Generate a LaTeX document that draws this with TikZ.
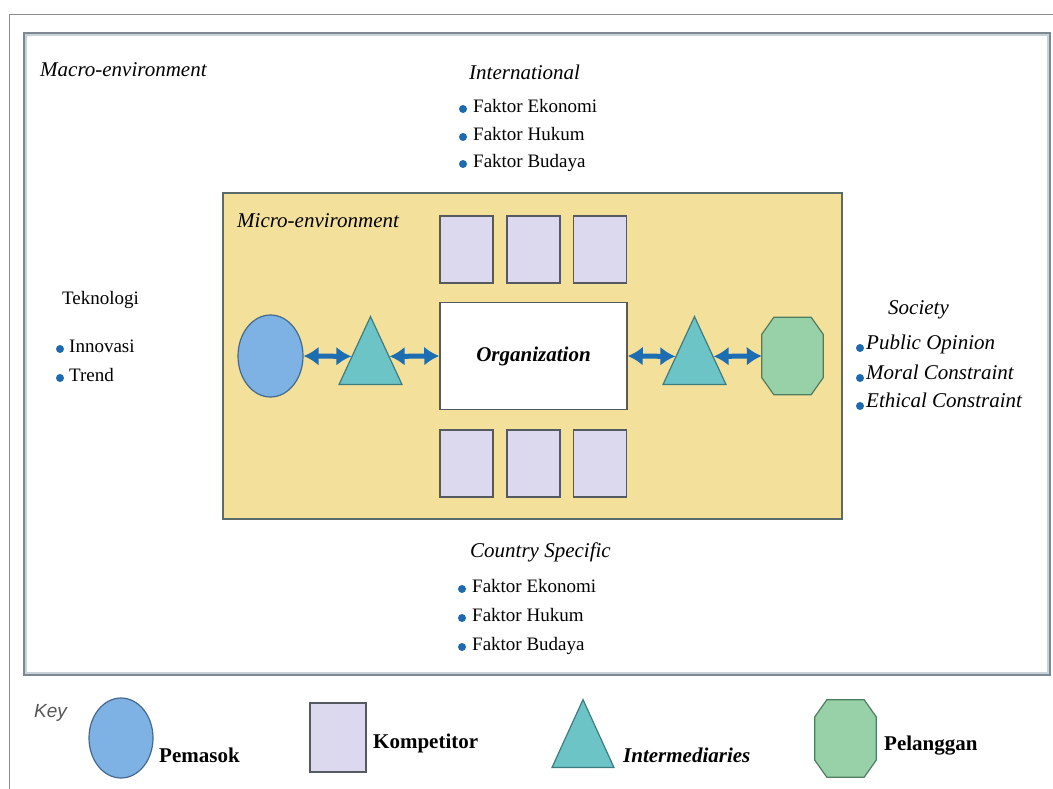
\documentclass[tikz,border=0pt]{standalone}
\usepackage{fontspec}
\setmainfont{Liberation Serif}
\setsansfont{Liberation Sans}
\usetikzlibrary{shapes.geometric,arrows.meta,calc}

\definecolor{framegray}{HTML}{8C8C8C}
\definecolor{macroline}{HTML}{7D8892}
\definecolor{macroshade}{HTML}{C9D1D8}
\definecolor{microline}{HTML}{596B6B}
\definecolor{microfill}{HTML}{F3E09B}
\definecolor{kompfill}{HTML}{DCD8EE}
\definecolor{shapeline}{HTML}{545A60}
\definecolor{pemfill}{HTML}{7EB2E4}
\definecolor{pemline}{HTML}{45698C}
\definecolor{intfill}{HTML}{6CC4C6}
\definecolor{intline}{HTML}{3F7C80}
\definecolor{pelfill}{HTML}{98D1A8}
\definecolor{pelline}{HTML}{4F7D60}
\definecolor{arrowblue}{HTML}{1D6DB3}
\definecolor{dotblue}{HTML}{1E6AB0}
\definecolor{keygray}{HTML}{555555}

% octagon drawn round an (invisible) node
\newcommand{\oktagon}[1]{%
  \draw[pelanggan] ([xshift=12pt]#1.north west) -- ([xshift=-12pt]#1.north east)
    -- ([yshift=-17pt]#1.north east) -- ([yshift=17pt]#1.south east)
    -- ([xshift=-12pt]#1.south east) -- ([xshift=12pt]#1.south west)
    -- ([yshift=17pt]#1.south west) -- ([yshift=-17pt]#1.north west) -- cycle;}

\begin{document}
\begin{tikzpicture}[x=1pt,y=-1pt,
    frame/.style={draw=framegray,line width=1pt},
    macrobox/.style={draw=macroline,line width=2.5pt},
    microbox/.style={draw=microline,line width=1.8pt,fill=microfill},
    komp/.style={draw=shapeline,line width=1.5pt,fill=kompfill,inner sep=0pt,minimum width=53pt,minimum height=67pt},
    org/.style={draw=shapeline,line width=1.5pt,fill=white,minimum width=187pt,minimum height=107pt,font=\fontsize{21}{24}\selectfont\bfseries\itshape},
    pemasok/.style={ellipse,draw=pemline,line width=1.2pt,fill=pemfill,inner sep=0pt,minimum width=65pt,minimum height=82pt},
    perantara/.style={isosceles triangle,shape border rotate=90,isosceles triangle stretches,draw=intline,line width=1.2pt,fill=intfill,inner sep=0pt,minimum width=63pt,minimum height=68pt,anchor=apex},
    pelbox/.style={inner sep=0pt,minimum width=61pt,minimum height=77pt},
    pelanggan/.style={draw=pelline,line width=1.2pt,fill=pelfill},
    link/.style={{Latex[length=15pt,width=19pt]}-{Latex[length=15pt,width=19pt]},line width=5pt,draw=arrowblue},
    dot/.style={circle,fill=dotblue,inner sep=0pt,minimum size=8pt},
    teks/.style={inner sep=0pt,anchor=west,text height=13pt,text depth=4pt,font=\fontsize{19}{22}\selectfont},
    miring/.style={teks,font=\fontsize{21}{24}\selectfont\itshape},
    kunci/.style={inner sep=0pt,anchor=west,text height=14pt,text depth=4pt,font=\fontsize{21}{24}\selectfont\bfseries}]

    \useasboundingbox[fill=white] (0,0) rectangle (1053,789);

    % frames
    \draw[frame] (9,789) -- (9,15) -- (1053,15);
    \draw[macroshade,line width=1.5pt] (26,35) rectangle (1048,673);
    \draw[macrobox] (24,33) rectangle (1050,675);
    \draw[microbox] (223,193) rectangle (842,519);

    % kompetitor
    \node[komp] (k1) at (466.5,249.5) {};
    \node[komp] (k2) at (533.5,249.5) {};
    \node[komp] (k3) at (600,249.5) {};
    \node[komp] (k4) at (466.5,463.5) {};
    \node[komp] (k5) at (533.5,463.5) {};
    \node[komp] (k6) at (600,463.5) {};

    \node[org] (org) at (533.5,356) {Organization};
    \node[pemasok] (pem) at (270.5,356) {};
    \node[perantara] (triL) at (370.5,315) {};
    \node[perantara] (triR) at (694.5,315) {};
    \node[pelbox] (pel) at (792.5,356) {};
    \oktagon{pel}

    \draw[link] (pem.east) -- ($(triL.apex)!0.59!(triL.left corner)$);
    \draw[link] ($(triL.apex)!0.59!(triL.right corner)$) -- (org.west);
    \draw[link] (org.east) -- ($(triR.apex)!0.59!(triR.left corner)$);
    \draw[link] ($(triR.apex)!0.59!(triR.right corner)$) -- (pel.west);

    % labels
    \node[miring] (makro) at (40,72) {Macro-environment};
    \node[miring] (mikro) at (237,223) {Micro-environment};

    \node[miring] (intl) at (469,75) {International};
    \node[dot] (i1) at (463,109) {};
    \node[teks] (i1t) at (473,108) {Faktor Ekonomi};
    \node[dot] (i2) at (463,137) {};
    \node[teks] (i2t) at (473,136) {Faktor Hukum};
    \node[dot] (i3) at (463,164) {};
    \node[teks] (i3t) at (473,163) {Faktor Budaya};

    \node[teks] (tek) at (62,300) {Teknologi};
    \node[dot] (t1) at (60,349) {};
    \node[teks] (t1t) at (69,348) {Innovasi};
    \node[dot] (t2) at (60,378) {};
    \node[teks] (t2t) at (69,377) {Trend};

    \node[miring] (soc) at (888,310) {Society};
    \node[dot] (s1) at (860,348) {};
    \node[miring] (s1t) at (866,345) {Public Opinion};
    \node[dot] (s2) at (860,378) {};
    \node[miring] (s2t) at (866,375) {Moral Constraint};
    \node[dot] (s3) at (860,406) {};
    \node[miring] (s3t) at (866,403) {Ethical Constraint};

    \node[miring] (cty) at (470,553) {Country Specific};
    \node[dot] (c1) at (462,589) {};
    \node[teks] (c1t) at (472,588) {Faktor Ekonomi};
    \node[dot] (c2) at (462,618) {};
    \node[teks] (c2t) at (472,617) {Faktor Hukum};
    \node[dot] (c3) at (462,647) {};
    \node[teks] (c3t) at (472,646) {Faktor Budaya};

    % key
    \node[inner sep=0pt,anchor=west,text=keygray,font=\sffamily\itshape\fontsize{19}{22}\selectfont] (key) at (34,713) {Key};
    \node[pemasok,minimum width=64pt,minimum height=80pt] (kpem) at (121,738) {};
    \node[kunci] (kpemt) at (159,757) {Pemasok};
    \node[komp,minimum width=56pt,minimum height=69pt] (kkomp) at (338,737.5) {};
    \node[kunci] (kkompt) at (373,743) {Kompetitor};
    \node[perantara,minimum width=62pt] (kint) at (583,698) {};
    \node[kunci,font=\fontsize{21}{24}\selectfont\bfseries\itshape] (kintt) at (623,757) {Intermediaries};
    \node[pelbox] (kpel) at (845.5,738.5) {};
    \oktagon{kpel}
    \node[kunci] (kpelt) at (884,745) {Pelanggan};
\end{tikzpicture}
\end{document}
